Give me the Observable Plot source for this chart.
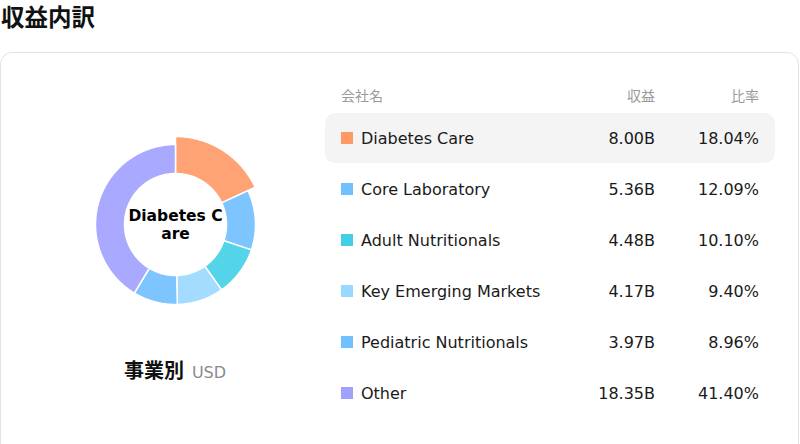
<!DOCTYPE html>
<html>
<head>
<meta charset="utf-8">
<script src="https://cdn.jsdelivr.net/npm/d3@7"></script>
<script src="https://cdn.jsdelivr.net/npm/@observablehq/plot@0.6"></script>
<style>
  html, body { margin: 0; padding: 0; background: #fff; }
  body { width: 800px; height: 444px; overflow: hidden; position: relative;
         font-family: "DejaVu Sans", "Noto Sans CJK JP", sans-serif; color: #1a1a1a; }
  #title { position: absolute; left: 1px; top: 3px; height: 26px; line-height: 26px;
           font-size: 23.5px; font-weight: bold; font-family: "Noto Sans CJK JP", "DejaVu Sans", sans-serif; color: #111; }
  #card { position: absolute; left: 0; top: 52px; width: 799px; height: 420px;
          border: 1px solid #e2e2ea; border-radius: 12px; box-sizing: border-box; }
  #donut { position: absolute; left: 75px; top: 124px; width: 200px; height: 200px; }
  #caption { position: absolute; left: 0; width: 350px; top: 355px; height: 30px; line-height: 30px; text-align: center; }
  #caption .main { font-size: 20px; font-weight: bold; font-family: "Noto Sans CJK JP", "DejaVu Sans", sans-serif; color: #111; }
  #caption .unit { font-size: 16px; color: #8a8a8a; margin-left: 8px; }
  .hdr { position: absolute; top: 86px; height: 18px; line-height: 18px; font-size: 14px; color: #9a9a9a;
         font-family: "Noto Sans CJK JP", "DejaVu Sans", sans-serif; }
  .hl { position: absolute; left: 325px; width: 450px; height: 50px; background: #f4f4f4; border-radius: 10px; }
  .sw { position: absolute; left: 341px; width: 12px; height: 12px; }
  .cell { position: absolute; height: 20px; line-height: 20px; font-size: 16px; color: #1a1a1a; white-space: nowrap; }
</style>
</head>
<body>
<div id="title">収益内訳</div>
<div id="card"></div>
<div id="donut"></div>
<div id="caption"><span class="main">事業別</span><span class="unit">USD</span></div>
<div id="table"></div>
<script>
const names = ["Diabetes Care", "Core Laboratory", "Adult Nutritionals", "Key Emerging Markets", "Pediatric Nutritionals", "Other"];
const revenue = [8.00, 5.36, 4.48, 4.17, 3.97, 18.35];
const shares = [18.04, 12.09, 10.10, 9.40, 8.96, 41.40];
const colors = ["#ff9966", "#70bfff", "#40cfe6", "#99d8ff", "#70bfff", "#a0a0ff"];
const headers = ["会社名", "収益", "比率"];
const selected = "Diabetes Care";

// donut geometry derived from the data via d3.pie
const rows = names.map((n, i) => ({name: n, revenue: revenue[i], share: shares[i]}));
const arcs = d3.pie().sort(null).value(d => d.share)(rows);
const points = [];
for (const a of arcs) {
  const outer = a.data.name === selected ? 88 : 80, inner = 51;
  const span = a.endAngle - a.startAngle;
  const n = Math.max(2, Math.ceil(span * 180 / Math.PI));
  for (let k = 0; k <= n; k++) {
    const t = a.startAngle + span * k / n;
    points.push({name: a.data.name, x: outer * Math.sin(t), y: outer * Math.cos(t)});
  }
  for (let k = n; k >= 0; k--) {
    const t = a.startAngle + span * k / n;
    points.push({name: a.data.name, x: inner * Math.sin(t), y: inner * Math.cos(t)});
  }
  points.push({name: a.data.name, x: outer * Math.sin(a.startAngle), y: outer * Math.cos(a.startAngle)});
}
const label = selected.slice(0, 10) + "\n" + selected.slice(10);

const chart = Plot.plot({
  width: 200, height: 200, margin: 0,
  style: {fontFamily: "DejaVu Sans, sans-serif", background: "transparent"},
  x: {domain: [-100, 100], axis: null},
  y: {domain: [-100, 100], axis: null},
  color: {domain: names, range: colors},
  marks: [
    Plot.line(points, {x: "x", y: "y", z: "name", fill: "name", fillOpacity: 0.9, stroke: "white", strokeWidth: 1.5}),
    Plot.text([label], {frameAnchor: "middle", text: d => d, fontWeight: "bold", fontSize: 15.5, lineHeight: 1.12, fill: "#000"})
  ]
});
document.getElementById("donut").appendChild(chart);

// legend table
const tbl = document.getElementById("table");
const hdrPos = [{left: 341}, {right: 800 - 655}, {right: 800 - 759}];
headers.forEach((h, i) => {
  const d = document.createElement("div");
  d.className = "hdr"; d.textContent = h;
  if (hdrPos[i].left !== undefined) d.style.left = hdrPos[i].left + "px";
  else { d.style.right = hdrPos[i].right + "px"; }
  tbl.appendChild(d);
});
rows.forEach((r, i) => {
  const cy = 138 + 51 * i;
  if (r.name === selected) {
    const h = document.createElement("div"); h.className = "hl"; h.style.top = (cy - 25) + "px"; tbl.appendChild(h);
  }
  const sw = document.createElement("div"); sw.className = "sw";
  sw.style.top = (cy - 6) + "px"; sw.style.background = colors[i]; tbl.appendChild(sw);
  const c1 = document.createElement("div"); c1.className = "cell"; c1.style.left = "361px"; c1.style.top = (cy - 9) + "px";
  c1.textContent = r.name; tbl.appendChild(c1);
  const c2 = document.createElement("div"); c2.className = "cell"; c2.style.right = (800 - 655) + "px"; c2.style.top = (cy - 9) + "px";
  c2.textContent = r.revenue.toFixed(2) + "B"; tbl.appendChild(c2);
  const c3 = document.createElement("div"); c3.className = "cell"; c3.style.right = (800 - 759) + "px"; c3.style.top = (cy - 9) + "px";
  c3.textContent = r.share.toFixed(2) + "%"; tbl.appendChild(c3);
});
</script>
</body>
</html>
